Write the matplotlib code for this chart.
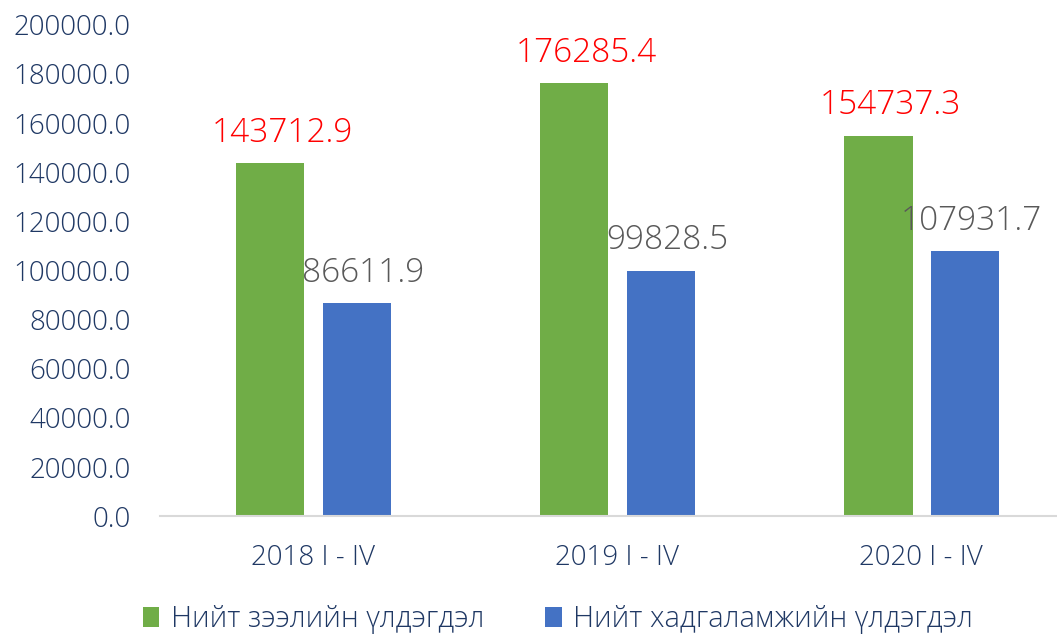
import numpy as np
import matplotlib.pyplot as plt

categories = ['2018 I - IV', '2019 I - IV', '2020 I - IV']
loans = [143712.9, 176285.4, 154737.3]
savings = [86611.9, 99828.5, 107931.7]
series_names = ['Нийт зээлийн үлдэгдэл', 'Нийт хадгаламжийн үлдэгдэл']
yticks = np.arange(0, 200001, 20000)

plt.rcParams['font.family'] = ['Open Sans', 'DejaVu Sans']
plt.rcParams['font.weight'] = 'light'
navy = '#1F3864'

fig = plt.figure(figsize=(10.57, 6.35), dpi=100)
ax = fig.add_axes([0.151, 0.187, 0.849, 0.774])

x = np.arange(len(categories))
w = 0.224
b1 = ax.bar(x - 0.14, loans, w, color='#70AD47', label=series_names[0])
b2 = ax.bar(x + 0.145, savings, w, color='#4472C4', label=series_names[1])

# подписи над столбцами
for r, v in zip(b1, loans):
    ax.text(r.get_x() + r.get_width() / 2 + 0.04, v + 5500, f'{v:.1f}', ha='center', va='bottom',
            color='#FF0000', fontsize=24)
for r, v in zip(b2, savings):
    ax.text(r.get_x() + r.get_width() / 2 + 0.02, v + 5500, f'{v:.1f}', ha='center', va='bottom',
            color='#595959', fontsize=24)

ax.set_xlim(-0.503, 2.447)
ax.set_ylim(0, 200000)
ax.set_yticks(yticks)
ax.set_yticklabels([f'{t:.1f}' for t in yticks], fontsize=20, color=navy)
ax.set_xticks(x)
ax.set_xticklabels(categories, fontsize=20, color=navy)
ax.tick_params(length=0)
ax.tick_params(axis='x', pad=20)
ax.tick_params(axis='y', pad=21)
for s in ['top', 'right', 'left']:
    ax.spines[s].set_visible(False)
ax.spines['bottom'].set_color('#D9D9D9')
ax.spines['bottom'].set_linewidth(1.5)

leg = fig.legend(loc='lower center', bbox_to_anchor=(0.528, -0.04), ncol=2, frameon=False,
                 fontsize=21, handlelength=0.55, handleheight=0.7, columnspacing=2.1,
                 handletextpad=0.4)
for t in leg.get_texts():
    t.set_color(navy)

fig.savefig('out.png', dpi=100)
